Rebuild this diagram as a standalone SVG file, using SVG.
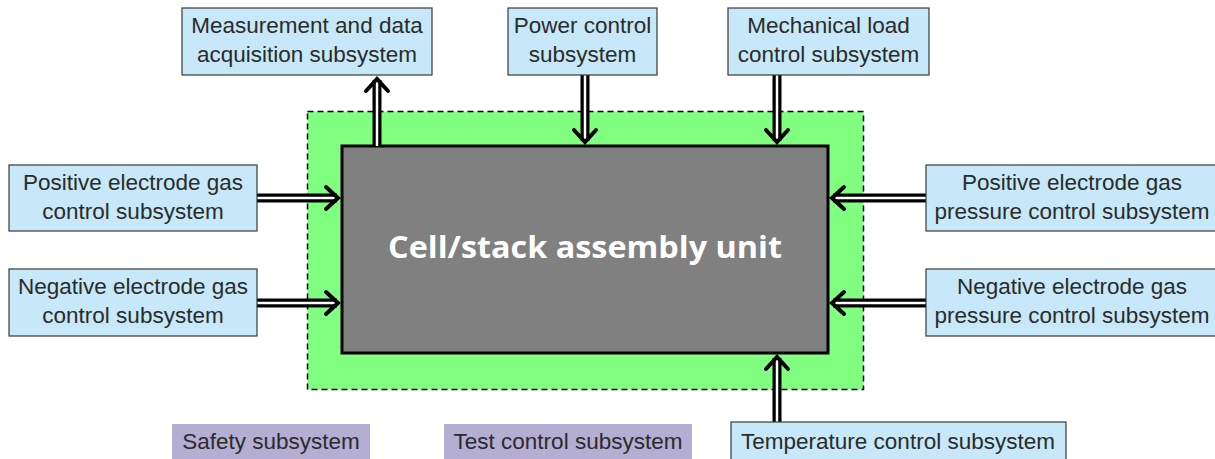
<svg xmlns="http://www.w3.org/2000/svg" width="1215" height="459" viewBox="0 0 1215 459">
<style>
.box{fill:#c6e8f8;stroke:#3a3a3a;stroke-width:1.2}
.pbox{fill:#b5aed3;stroke:none}
.t{font-family:"Liberation Sans",Arial,sans-serif;font-size:22.5px;fill:#2b2b2b;text-anchor:middle}
.shaftO{stroke:#000;stroke-width:9;fill:none}
.shaftI{stroke:#fff;stroke-width:2.5;fill:none}
.head{stroke:#000;stroke-width:4;fill:none;stroke-linecap:round;stroke-linejoin:miter}
</style>
<rect x="0" y="0" width="1215" height="459" fill="#fff"/>
<g id="boundary">
<rect x="307.5" y="111.5" width="556" height="278" fill="#80ff80" stroke="#000" stroke-width="1.5" stroke-dasharray="6,4"/>
</g>
<g id="core">
<rect x="342" y="146" width="486" height="207" fill="#808080" stroke="#000" stroke-width="3"/>
<text x="585" y="258" font-family="'Open Sans','Noto Sans',sans-serif" font-weight="bold" font-size="30" fill="#fff" text-anchor="middle" textLength="394" lengthAdjust="spacingAndGlyphs">Cell/stack assembly unit</text>
</g>
<g id="connectors">
<line class="shaftO" x1="377" y1="146" x2="377" y2="80"/>
<line class="shaftI" x1="377" y1="146" x2="377" y2="80"/>
<polyline class="head" points="366,91 377,79 388,91"/>
<line class="shaftO" x1="585" y1="75" x2="585" y2="141"/>
<line class="shaftI" x1="585" y1="75" x2="585" y2="141"/>
<polyline class="head" points="574,130 585,142 596,130"/>
<line class="shaftO" x1="777" y1="75" x2="777" y2="141"/>
<line class="shaftI" x1="777" y1="75" x2="777" y2="141"/>
<polyline class="head" points="766,130 777,142 788,130"/>
<line class="shaftO" x1="777" y1="422" x2="777" y2="358"/>
<line class="shaftI" x1="777" y1="422" x2="777" y2="358"/>
<polyline class="head" points="766,369 777,357 788,369"/>
<line class="shaftO" x1="257" y1="198" x2="337" y2="198"/>
<line class="shaftI" x1="257" y1="198" x2="337" y2="198"/>
<polyline class="head" points="326,187 338,198 326,209"/>
<line class="shaftO" x1="257" y1="303" x2="337" y2="303"/>
<line class="shaftI" x1="257" y1="303" x2="337" y2="303"/>
<polyline class="head" points="326,292 338,303 326,314"/>
<line class="shaftO" x1="926" y1="198" x2="833" y2="198"/>
<line class="shaftI" x1="926" y1="198" x2="833" y2="198"/>
<polyline class="head" points="844,187 832,198 844,209"/>
<line class="shaftO" x1="926" y1="303" x2="833" y2="303"/>
<line class="shaftI" x1="926" y1="303" x2="833" y2="303"/>
<polyline class="head" points="844,292 832,303 844,314"/>
</g>
<g id="measurement">
<rect class="box" x="182" y="8" width="250" height="67"/>
<text class="t" x="307" y="33">Measurement and data</text>
<text class="t" x="307" y="62">acquisition subsystem</text>
</g>
<g id="power">
<rect class="box" x="508" y="8" width="149" height="67"/>
<text class="t" x="582.5" y="33">Power control</text>
<text class="t" x="582.5" y="62">subsystem</text>
</g>
<g id="mechanical">
<rect class="box" x="728" y="8" width="201" height="67"/>
<text class="t" x="828.5" y="33">Mechanical load</text>
<text class="t" x="828.5" y="62">control subsystem</text>
</g>
<g id="pos-gas">
<rect class="box" x="9" y="165" width="248" height="66"/>
<text class="t" x="133" y="190">Positive electrode gas</text>
<text class="t" x="133" y="219">control subsystem</text>
</g>
<g id="neg-gas">
<rect class="box" x="9" y="269" width="248" height="67"/>
<text class="t" x="133" y="294">Negative electrode gas</text>
<text class="t" x="133" y="323">control subsystem</text>
</g>
<g id="pos-pressure">
<rect class="box" x="926" y="165" width="295" height="66"/>
<text class="t" x="1072" y="190">Positive electrode gas</text>
<text class="t" x="1072" y="219">pressure control subsystem</text>
</g>
<g id="neg-pressure">
<rect class="box" x="926" y="269" width="295" height="67"/>
<text class="t" x="1072" y="294">Negative electrode gas</text>
<text class="t" x="1072" y="323">pressure control subsystem</text>
</g>
<g id="safety">
<rect class="pbox" x="172" y="424" width="198" height="40"/>
<text class="t" x="271" y="449">Safety subsystem</text>
</g>
<g id="test-control">
<rect class="pbox" x="444" y="424" width="248" height="40"/>
<text class="t" x="568" y="449">Test control subsystem</text>
</g>
<g id="temperature">
<rect class="box" x="731" y="422" width="335" height="45"/>
<text class="t" x="898" y="449">Temperature control subsystem</text>
</g>
</svg>
